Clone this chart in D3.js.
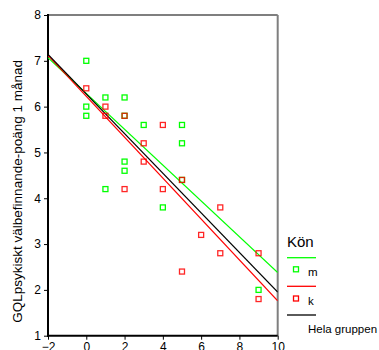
<!DOCTYPE html>
<html>
<head>
<meta charset="utf-8">
<script src="https://cdn.jsdelivr.net/npm/d3@7"></script>
<style>
  html, body { margin: 0; padding: 0; background: #fff; }
  svg { display: block; font-family: Arial, "Liberation Sans", sans-serif; }
</style>
</head>
<body>
<svg id="chart" width="379" height="350"></svg>
<script>
// Tick values
const xTicks = [-2, 0, 2, 4, 6, 8, 10];
const yTicks = [1, 2, 3, 4, 5, 6, 7, 8];

// Observations per group (x, score)
const menX = [0, 0, 0, 1, 1, 2, 2, 2, 2, 3, 4, 5, 5, 5, 9];
const menY = [7.0, 6.0, 5.8, 6.2, 4.2, 6.2, 5.8, 4.8, 4.6, 5.6, 3.8, 5.6, 5.2, 4.4, 2.0];
const womenX = [0, 1, 1, 2, 2, 3, 3, 4, 4, 5, 5, 6, 7, 7, 9, 9];
const womenY = [6.4, 6.0, 5.8, 5.8, 4.2, 5.2, 4.8, 5.6, 4.2, 4.4, 2.4, 3.2, 3.8, 2.8, 2.8, 1.8];

// Fitted lines: value at x = -2 and at x = 10
const fitX = [-2, 10];
const fitMen = [7.07, 2.38];
const fitWomen = [7.12, 1.76];
const fitAll = [7.14, 1.95];

// Legend entries
const legendTitle = "Kön";
const legendLabels = ["m", "k", "Hela gruppen"];
const yTitle = "GQLpsykiskt välbefinnande-poäng 1 månad";

const GREEN = "#00ff00", RED = "#ff0000", BLACK = "#000000";

const svg = d3.select("#chart");
const plotL = 48, plotR = 277.7, plotT = 15, plotB = 335.7;

const x = d3.scaleLinear().domain([-2, 10]).range([plotL, plotR]);
const y = d3.scaleLinear().domain([1, 8]).range([plotB, plotT]);

svg.append("defs").append("clipPath").attr("id", "plotclip")
  .append("rect").attr("x", plotL).attr("y", plotT)
  .attr("width", plotR - plotL).attr("height", plotB - plotT);

// Frame: top and right in grey
svg.append("line").attr("x1", plotL).attr("x2", plotR).attr("y1", plotT).attr("y2", plotT)
  .attr("stroke", "#7f7f7f").attr("stroke-width", 2);
svg.append("line").attr("x1", plotR).attr("x2", plotR).attr("y1", plotT).attr("y2", plotB)
  .attr("stroke", "#7f7f7f").attr("stroke-width", 2);

// Axes
const xAxis = svg.append("g").attr("transform", `translate(0,${plotB})`)
  .call(d3.axisBottom(x).tickValues(xTicks).tickSize(4).tickPadding(3).tickFormat(d3.format("d")));
const yAxis = svg.append("g").attr("transform", `translate(${plotL},0)`)
  .call(d3.axisLeft(y).tickValues(yTicks).tickSize(4).tickPadding(3).tickFormat(d3.format("d")));
[xAxis, yAxis].forEach(g => {
  g.select(".domain").attr("stroke", "#000").attr("stroke-width", 2);
  g.selectAll(".tick line").attr("stroke", "#000").attr("stroke-width", 1);
  g.selectAll(".tick text").attr("fill", "#000").attr("font-size", 12)
    .attr("font-family", "Arial, 'Liberation Sans', sans-serif");
});
yAxis.select(".domain").attr("d", `M0,${plotB + 1}V${plotT - 1}`);
xAxis.select(".domain").attr("d", `M${plotL - 1},0H${plotR}`);

// Y axis title
svg.append("text")
  .attr("transform", `translate(22,${(plotT + plotB) / 2 + 16}) rotate(-90)`)
  .attr("text-anchor", "middle")
  .attr("font-size", 13.5)
  .attr("fill", "#000")
  .text(yTitle);

// Regression lines
const plot = svg.append("g").attr("clip-path", "url(#plotclip)");
const line = d3.line().x(d => x(d[0])).y(d => y(d[1]));
[[fitMen, GREEN], [fitWomen, RED], [fitAll, BLACK]].forEach(([vals, col]) => {
  plot.append("path")
    .attr("d", line(fitX.map((xv, i) => [xv, vals[i]])))
    .attr("fill", "none").attr("stroke", col).attr("stroke-width", 1.2);
});

// Square markers
function squares(xs, ys, col, opacity) {
  plot.append("g").selectAll("rect")
    .data(xs.map((xv, i) => [xv, ys[i]]))
    .join("rect")
    .attr("x", d => x(d[0]) - 2.5)
    .attr("y", d => y(d[1]) - 2.5)
    .attr("width", 5).attr("height", 5)
    .attr("fill", "none").attr("stroke", col).attr("stroke-width", 1.3)
    .attr("stroke-opacity", opacity);
}
squares(menX, menY, GREEN, 1);
squares(womenX, womenY, RED, 0.85);

// Legend
const lg = svg.append("g");
lg.append("text").attr("x", 287).attr("y", 246.5).attr("font-size", 15).attr("fill", "#000").text(legendTitle);
const legendRows = [
  { col: GREEN, lineY: 257.7, markY: 269.3, textY: 275.5, marker: true },
  { col: RED, lineY: 286.3, markY: 298.5, textY: 304.5, marker: true },
  { col: BLACK, lineY: 315, markY: null, textY: 332.5, marker: false }
];
legendRows.forEach((r, i) => {
  lg.append("line").attr("x1", 287).attr("x2", 316).attr("y1", r.lineY).attr("y2", r.lineY)
    .attr("stroke", r.col).attr("stroke-width", 1.3);
  if (r.marker) {
    lg.append("rect").attr("x", 296 - 2.5).attr("y", r.markY - 2.5).attr("width", 5).attr("height", 5)
      .attr("fill", "none").attr("stroke", r.col).attr("stroke-width", 1.3);
  }
  lg.append("text").attr("x", 308).attr("y", r.textY).attr("font-size", 11.5).attr("fill", "#000")
    .text(legendLabels[i]);
});
</script>
</body>
</html>
